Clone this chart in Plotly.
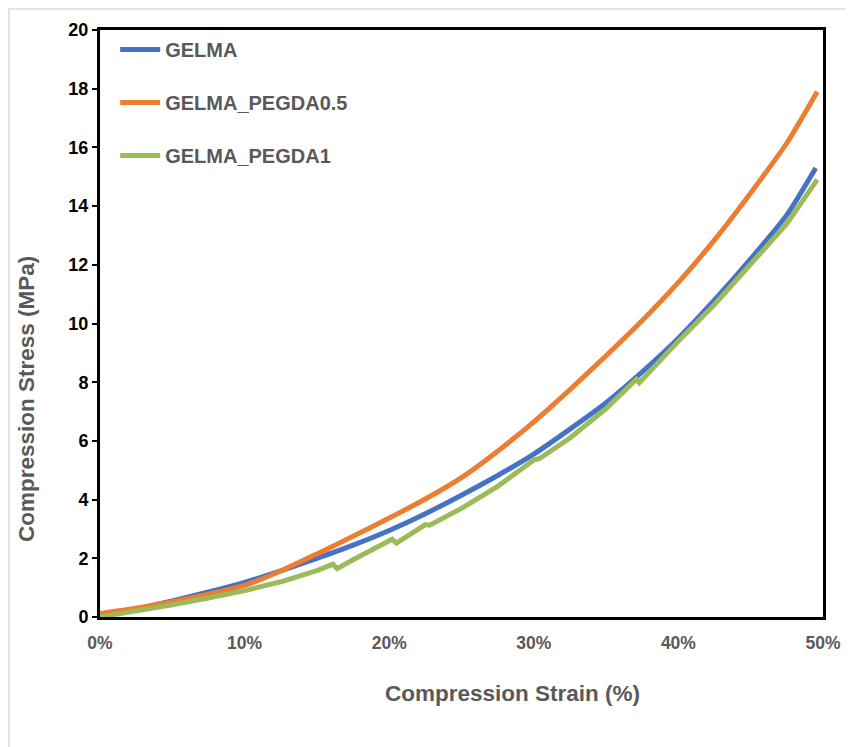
import plotly.graph_objects as go

# Strain (fraction) and stress (MPa)
gelma_strain = [0.0, 0.025, 0.05, 0.075, 0.10, 0.125, 0.15, 0.175, 0.20, 0.225, 0.25, 0.275,
                0.30, 0.325, 0.35, 0.375, 0.40, 0.425, 0.45, 0.475, 0.495]
gelma_stress = [0.0, 0.27, 0.55, 0.85, 1.18, 1.57, 2.0, 2.45, 2.95, 3.52, 4.15, 4.82,
                5.55, 6.4, 7.3, 8.35, 9.5, 10.8, 12.2, 13.7, 15.3]

peg05_strain = [0.0, 0.025, 0.05, 0.075, 0.10, 0.125, 0.15, 0.175, 0.20, 0.225, 0.25, 0.275,
                0.30, 0.325, 0.35, 0.375, 0.40, 0.425, 0.45, 0.475, 0.496]
peg05_stress = [0.12, 0.3, 0.52, 0.78, 1.08, 1.57, 2.15, 2.75, 3.37, 4.02, 4.75, 5.65,
                6.65, 7.75, 8.9, 10.1, 11.4, 12.85, 14.45, 16.15, 17.9]

peg1_strain = [0.0, 0.025, 0.05, 0.075, 0.10, 0.125, 0.15, 0.161, 0.164, 0.175, 0.20, 0.202,
               0.205, 0.225, 0.228, 0.25, 0.275, 0.30, 0.304, 0.325, 0.35, 0.371, 0.373,
               0.40, 0.425, 0.45, 0.475, 0.496]
peg1_stress = [0.0, 0.2, 0.42, 0.65, 0.9, 1.2, 1.58, 1.8, 1.65, 1.95, 2.6, 2.65,
               2.52, 3.15, 3.13, 3.7, 4.45, 5.35, 5.4, 6.1, 7.1, 8.1, 7.98,
               9.4, 10.65, 12.05, 13.4, 14.9]

names = ["GELMA", "GELMA_PEGDA0.5", "GELMA_PEGDA1"]
colors = ["#4472C4", "#ED7D31", "#9BBB59"]
shapes_ = ["spline", "spline", "linear"]

xt_vals = [0.0, 0.1, 0.2, 0.3, 0.4, 0.5]
yt_vals = [0, 2, 4, 6, 8, 10, 12, 14, 16, 18, 20]

FONT = "Liberation Sans, Arial, sans-serif"
GRAY = "#595959"

# page has an 8px body margin: plot area target in page px is x 100..823, y 30..617
L, T, PW, PH = 92, 22, 723, 587

fig = go.Figure()
for i, (xs, ys) in enumerate([(gelma_strain, gelma_stress),
                              (peg05_strain, peg05_stress),
                              (peg1_strain, peg1_stress)]):
    fig.add_trace(go.Scatter(x=xs, y=ys, mode="lines", name=names[i],
                             legendgroup=names[i],
                             line=dict(color=colors[i], width=5, shape=shapes_[i],
                                       smoothing=0.6)))

def px(page_x):
    return (page_x - 100) / PW

def py(page_y):
    return (617 - page_y) / PH

fig.update_layout(
    width=853, height=747,
    margin=dict(l=L, r=853 - L - PW, t=T, b=747 - T - PH),
    paper_bgcolor="white", plot_bgcolor="white",
    font=dict(family=FONT),
    showlegend=True,
    legend=dict(x=0.021, y=1.0, xanchor="left", yanchor="top",
                bgcolor="rgba(0,0,0,0)", traceorder="grouped", tracegroupgap=24,
                itemwidth=40,
                font=dict(family=FONT, size=20, color=GRAY, weight="bold")),
    xaxis=dict(range=[0, 0.5], tickvals=xt_vals, tickformat=".0%",
               showgrid=False, zeroline=False, ticks="", ticklabelstandoff=8,
               showline=True, linecolor="black", linewidth=3, mirror=True,
               tickfont=dict(family=FONT, size=17.5, color=GRAY, weight="bold")),
    yaxis=dict(range=[0, 20], tickvals=yt_vals,
               showgrid=False, zeroline=False, ticks="outside", ticklen=5,
               tickcolor="black", tickwidth=2,
               showline=True, linecolor="black", linewidth=3, mirror=True,
               tickfont=dict(family=FONT, size=18, color="black", weight="bold")),
    annotations=[
        dict(text="Compression Strain (%)", x=px(512), y=py(693),
             xref="paper", yref="paper", showarrow=False, xanchor="center", yanchor="middle",
             font=dict(family=FONT, size=22.5, color=GRAY, weight="bold")),
        dict(text="Compression Stress (MPa)", x=px(27), y=py(399),
             xref="paper", yref="paper", showarrow=False, textangle=-90,
             xanchor="center", yanchor="middle",
             font=dict(family=FONT, size=22.5, color=GRAY, weight="bold")),
    ],
    shapes=[
        dict(type="rect", xref="paper", yref="paper",
             x0=px(9), x1=px(900),
             y0=py(800), y1=py(9),
             line=dict(color="#dcdcdc", width=1.5), layer="below"),
    ],
)

fig.write_html("out.html")
